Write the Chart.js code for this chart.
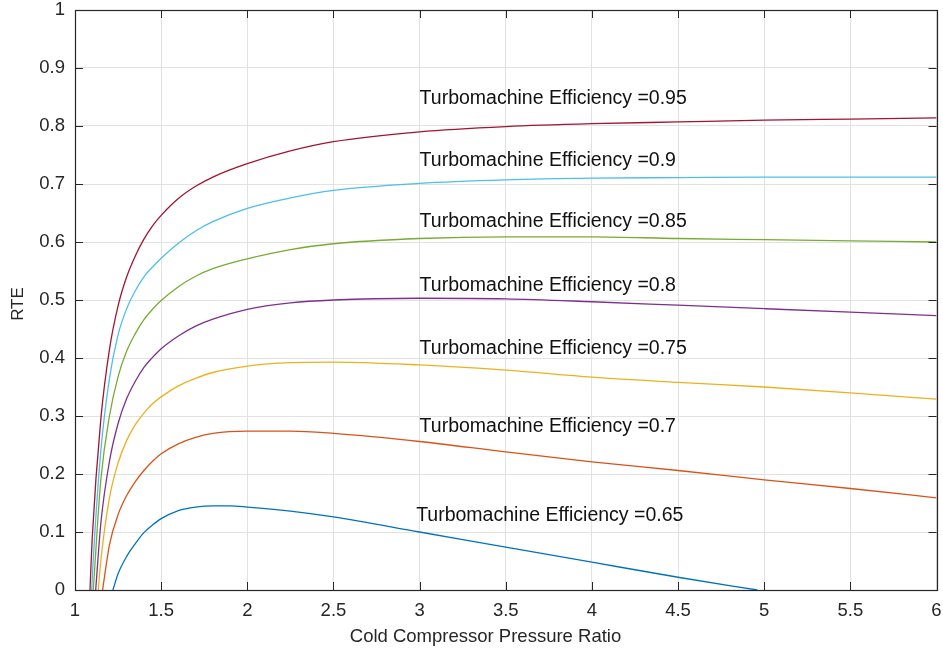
<!DOCTYPE html>
<html>
<head>
<meta charset="utf-8">
<script src="https://cdn.jsdelivr.net/npm/chart.js@4.4.1/dist/chart.umd.min.js"></script>
<style>
  html, body { margin: 0; padding: 0; background: #ffffff; }
  #wrap { width: 943px; height: 656px; position: relative; }
</style>
</head>
<body>
<div id="wrap"><canvas id="c" width="943" height="656"></canvas></div>
<script>
// ---- data ----
const xTickLabels = ['1','1.5','2','2.5','3','3.5','4','4.5','5','5.5','6'];
const yTickLabels = ['0','0.1','0.2','0.3','0.4','0.5','0.6','0.7','0.8','0.9','1'];
const efficiencies = ['0.65','0.7','0.75','0.8','0.85','0.9','0.95'];
const xTitle = 'Cold Compressor Pressure Ratio';
const yTitle = 'RTE';

const x065 = [1.22,1.25,1.3,1.35,1.4,1.45,1.5,1.6,1.7,1.8,1.9,2,2.25,2.5,3,3.5,4,4.5,4.96];
const y065 = [0,0.028,0.058,0.08,0.099,0.112,0.123,0.137,0.143,0.145,0.145,0.143,0.136,0.126,0.100,0.074,0.048,0.022,0];

const x070 = [1.16,1.2,1.25,1.3,1.35,1.4,1.45,1.5,1.6,1.7,1.8,2,2.25,2.5,3,3.5,4,4.5,5,5.5,6];
const y070 = [0,0.078,0.13,0.163,0.187,0.206,0.222,0.235,0.252,0.263,0.27,0.274,0.274,0.27,0.256,0.238,0.221,0.206,0.19,0.175,0.159];

const x075 = [1.135,1.15,1.2,1.25,1.3,1.35,1.4,1.45,1.5,1.6,1.7,1.8,2,2.25,2.5,3,3.5,4,4.5,5,5.5,6];
const y075 = [0,0.051,0.159,0.219,0.258,0.285,0.305,0.321,0.333,0.352,0.365,0.375,0.386,0.392,0.393,0.388,0.379,0.367,0.358,0.35,0.34,0.329];

const x080 = [1.12,1.15,1.2,1.25,1.3,1.35,1.4,1.45,1.5,1.6,1.7,1.8,2,2.25,2.5,3,3.5,4,4.5,5,5.5,6];
const y080 = [0,0.115,0.222,0.287,0.33,0.36,0.384,0.401,0.416,0.438,0.455,0.467,0.484,0.495,0.5,0.503,0.502,0.497,0.491,0.485,0.479,0.473];

const x085 = [1.106,1.15,1.2,1.25,1.3,1.35,1.4,1.45,1.5,1.6,1.7,1.8,2,2.25,2.5,3,3.5,4,4.5,5,5.5,6];
const y085 = [0,0.19,0.30,0.368,0.412,0.442,0.466,0.484,0.499,0.523,0.541,0.554,0.571,0.587,0.597,0.606,0.609,0.609,0.606,0.604,0.602,0.6];

const x090 = [1.097,1.1,1.15,1.2,1.25,1.3,1.35,1.4,1.45,1.5,1.6,1.7,1.8,2,2.25,2.5,3,3.5,4,4.5,5,5.5,6];
const y090 = [0,0.02,0.24,0.365,0.44,0.485,0.516,0.54,0.557,0.572,0.598,0.619,0.635,0.658,0.676,0.689,0.701,0.707,0.71,0.711,0.712,0.712,0.712];

const x095 = [1.087,1.1,1.15,1.2,1.25,1.3,1.35,1.4,1.45,1.5,1.6,1.7,1.8,2,2.25,2.5,3,3.5,4,4.5,5,5.5,6];
const y095 = [0,0.09,0.295,0.415,0.49,0.54,0.576,0.605,0.628,0.646,0.675,0.696,0.712,0.735,0.757,0.773,0.79,0.799,0.804,0.807,0.81,0.812,0.814];

const labelX = [2.98,3,3,3,3,3,3];
const labelY = [0.128,0.281,0.416,0.524,0.635,0.741,0.848];

// ---- styling ----
const colors = ['#0072BD','#D95319','#EDB120','#7E2F8E','#77AC30','#4DBEEE','#A2142F'];
const seriesX = [x065,x070,x075,x080,x085,x090,x095];
const seriesY = [y065,y070,y075,y080,y085,y090,y095];
const FONT = '"Liberation Sans", Arial, Helvetica, sans-serif';
const AXIS_COLOR = '#262626';

const datasets = seriesX.map((xs, i) => ({
  label: 'Turbomachine Efficiency =' + efficiencies[i],
  data: xs.map((x, j) => ({x: x, y: seriesY[i][j]})),
  borderColor: colors[i],
  borderWidth: 1.3,
  pointRadius: 0,
  fill: false,
  cubicInterpolationMode: 'monotone'
}));

const matlabAxes = {
  id: 'matlabAxes',
  afterDatasetsDraw(chart) {
    const ctx = chart.ctx;
    const xs = chart.scales.x, ys = chart.scales.y;
    ctx.save();
    ctx.font = '19.5px ' + FONT;
    ctx.fillStyle = '#111111';
    ctx.textAlign = 'left';
    ctx.textBaseline = 'middle';
    for (let i = 0; i < efficiencies.length; i++) {
      ctx.fillText('Turbomachine Efficiency =' + efficiencies[i],
        xs.getPixelForValue(labelX[i]), ys.getPixelForValue(labelY[i]));
    }
    ctx.restore();
  },
  afterDraw(chart) {
    const ctx = chart.ctx;
    const a = chart.chartArea;
    const xs = chart.scales.x, ys = chart.scales.y;
    const tl = 8;
    ctx.save();
    ctx.strokeStyle = AXIS_COLOR;
    ctx.lineWidth = 1;
    ctx.beginPath();
    xs.ticks.forEach(t => {
      const px = Math.round(xs.getPixelForValue(t.value)) + 0.5;
      ctx.moveTo(px, a.bottom); ctx.lineTo(px, a.bottom - tl);
      ctx.moveTo(px, a.top); ctx.lineTo(px, a.top + tl);
    });
    ys.ticks.forEach(t => {
      const py = Math.round(ys.getPixelForValue(t.value)) + 0.5;
      ctx.moveTo(a.left, py); ctx.lineTo(a.left + tl, py);
      ctx.moveTo(a.right, py); ctx.lineTo(a.right - tl, py);
    });
    ctx.stroke();
    ctx.lineWidth = 1.2;
    ctx.strokeRect(Math.round(a.left) + 0.5, Math.round(a.top) + 0.5,
      Math.round(a.right - a.left), Math.round(a.bottom - a.top));
    // axis titles
    ctx.fillStyle = AXIS_COLOR;
    ctx.textAlign = 'center';
    ctx.textBaseline = 'middle';
    ctx.font = '18.5px ' + FONT;
    ctx.fillText(xTitle, 485.5, 637);
    ctx.translate(18, 304);
    ctx.rotate(-Math.PI / 2);
    ctx.font = '17px ' + FONT;
    ctx.fillText(yTitle, 0, 0);
    ctx.restore();
  }
};

new Chart(document.getElementById('c'), {
  type: 'line',
  data: { datasets: datasets },
  options: {
    responsive: false,
    animation: false,
    events: [],
    layout: { padding: 0 },
    plugins: { legend: { display: false }, tooltip: { enabled: false } },
    scales: {
      x: {
        type: 'linear',
        min: 1, max: 6,
        afterFit(s) { s.height = 66; s.paddingLeft = 0; s.paddingRight = 6.5; },
        grid: { color: '#e2e2e2', lineWidth: 1, drawTicks: false },
        border: { display: false },
        ticks: {
          stepSize: 0.5,
          padding: 10,
          color: AXIS_COLOR,
          font: { family: FONT, size: 18.5 },
          maxRotation: 0,
          callback: (v, i) => xTickLabels[i]
        },
        title: { display: false }
      },
      y: {
        type: 'linear',
        min: 0, max: 1,
        afterFit(s) { s.width = 75; s.paddingTop = 10; s.paddingBottom = 0; },
        grid: { color: '#e2e2e2', lineWidth: 1, drawTicks: false },
        border: { display: false },
        ticks: {
          stepSize: 0.1,
          padding: 10,
          color: AXIS_COLOR,
          font: { family: FONT, size: 18.5 },
          callback: (v, i) => yTickLabels[i]
        },
        title: { display: false }
      }
    }
  },
  plugins: [matlabAxes]
});
</script>
</body>
</html>
